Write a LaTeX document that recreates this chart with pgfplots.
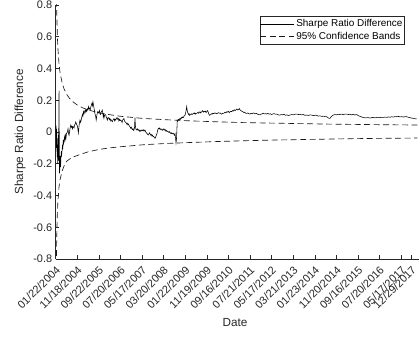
\documentclass[border=0pt]{standalone}
\usepackage{fontspec}
\setmainfont{Liberation Sans}
\usepackage{pgfplots}
\pgfplotsset{compat=1.18}
\definecolor{axiscol}{RGB}{38,38,38}
\begin{document}
\begin{tikzpicture}
\useasboundingbox (-55.7bp,-78bp) rectangle (364.3bp,259bp);
\begin{axis}[
  scale only axis,
  width=363.6bp, height=254bp,
  at={(0,0)}, anchor=south west,
  xmin=0, xmax=3367, ymin=-0.8, ymax=0.8,
  axis x line*=bottom, axis y line*=left,
  axis line style={color=axiscol, line width=0.5bp},
  tick align=inside,
  major tick length=3.6bp,
  tick style={color=axiscol, line width=0.5bp},
  /pgf/number format/assume math mode=true,
  xtick={0,200,400,600,800,1000,1200,1400,1600,1800,2000,2200,2400,2600,2800,3000,3200,3296},
  xticklabels={01/22/2004,11/18/2004,09/22/2005,07/20/2006,05/17/2007,03/20/2008,01/22/2009,11/19/2009,09/16/2010,07/21/2011,05/17/2012,03/21/2013,01/23/2014,11/20/2014,09/16/2015,07/20/2016,05/17/2017,12/29/2017},
  xticklabel style={font=\fontsize{11}{13}\selectfont, color=axiscol, xshift=3.2bp, yshift=-8.2bp, rotate=45, anchor=east, inner sep=1bp},
  ytick={-0.8,-0.6,-0.4,-0.2,0,0.2,0.4,0.6,0.8},
  yticklabels={-0.8,-0.6,-0.4,-0.2,0,0.2,0.4,0.6,0.8},
  yticklabel style={font=\fontsize{11}{13}\selectfont, color=axiscol},
  xlabel={Date},
  ylabel={Sharpe Ratio Difference},
  xlabel style={font=\fontsize{11.8}{14}\selectfont, color=axiscol, at={(axis description cs:0.493,-0.252)}, anchor=center},
  ylabel style={font=\fontsize{11.8}{14}\selectfont, color=axiscol, at={(axis description cs:-0.098,0.5)}, anchor=center, rotate=0},
  legend style={at={(axis description cs:0.9587,0.958)}, anchor=north east, draw=axiscol, line width=0.5bp, fill=white,
    font=\fontsize{10}{12}\selectfont, inner xsep=0bp, inner ysep=2.5bp, row sep=2.2bp,
    nodes={inner xsep=1.6bp, inner ysep=1bp}},
  legend cell align=left,
  legend image code/.code={\draw[#1] (0bp,0bp) -- (34bp,0bp);},
]
\addplot[black, line width=0.55bp] coordinates {
(0,0.00)(3,0.04)(5,-0.03)(7,-0.10)(9,0.02)(11,-0.06)(13,-0.16)(15,-0.04)(17,-0.12)(19,-0.20)
(21,-0.08)(23,-0.15)(25,-0.02)(27,-0.18)(29,0.10)(31,0.26)(33,-0.05)(35,-0.26)(37,-0.18)(39,-0.24)
(42,-0.15)(45,-0.22)(48,-0.17)(52,-0.12)(56,-0.14)(62,-0.09)(66,-0.11)(70,-0.05)(74,-0.07)(77,-0.06)
(82,-0.03)(86,-0.05)(90,-0.02)(95,-0.04)(100,-0.01)(108,0.00)(114,0.02)(119,-0.01)(124,-0.02)(130,0.01)
(135,0.03)(140,0.044)(146,0.03)(150,0.035)(155,0.02)(160,0.035)(165,0.03)(170,0.025)(175,0.045)(180,0.05)
(185,0.063)(190,0.055)(195,0.045)(200,0.04)(205,0.02)(210,-0.006)(215,0.03)(220,0.06)(225,0.075)(230,0.06)
(235,0.07)(242,0.096)(248,0.11)(252,0.10)(257,0.128)(262,0.115)(268,0.13)(273,0.138)(278,0.125)(283,0.14)
(288,0.13)(293,0.145)(298,0.14)(304,0.16)(309,0.145)(314,0.15)(320,0.14)(326,0.16)(331,0.17)(335,0.18)
(340,0.165)(345,0.19)(350,0.17)(355,0.15)(360,0.13)(365,0.11)(370,0.10)(375,0.075)(380,0.10)(385,0.12)
(390,0.128)(395,0.12)(401,0.126)(405,0.135)(410,0.115)(415,0.11)(420,0.125)(426,0.13)(431,0.138)(436,0.12)
(440,0.10)(444,0.11)(447,0.088)(452,0.105)(457,0.11)(462,0.11)(467,0.095)(472,0.09)(478,0.075)(484,0.09)
(490,0.09)(495,0.08)(500,0.085)(505,0.07)(510,0.08)(517,0.072)(524,0.065)(530,0.075)(535,0.08)(540,0.085)
(546,0.07)(551,0.08)(556,0.075)(562,0.085)(566,0.09)(570,0.09)(575,0.08)(580,0.085)(585,0.07)(590,0.08)
(596,0.072)(602,0.075)(608,0.07)(612,0.065)(615,0.06)(620,0.075)(626,0.08)(632,0.085)(637,0.07)(642,0.065)
(648,0.06)(653,0.058)(658,0.05)(663,0.055)(668,0.045)(674,0.05)(680,0.04)(685,0.035)(690,0.03)(695,0.023)
(700,0.03)(705,0.02)(710,0.015)(715,0.02)(720,0.01)(725,0.013)(730,0.03)(734,0.09)(738,0.04)(742,0.02)
(746,0.015)(750,0.013)(757,0.02)(763,0.01)(770,0.015)(776,0.005)(781,0.01)(788,0.005)(795,0.012)(802,0.008)
(810,0.015)(818,0.005)(827,0.013)(833,0.00)(840,-0.005)(846,-0.01)(852,-0.015)(857,-0.019)(863,-0.012)(868,-0.005)
(873,-0.01)(879,-0.02)(885,-0.015)(890,-0.025)(896,-0.02)(902,-0.03)(908,-0.028)(914,-0.035)(920,-0.04)(926,-0.03)
(932,-0.02)(938,-0.01)(944,0.01)(950,0.023)(956,0.02)(962,0.025)(968,0.015)(974,0.02)(980,0.018)(986,0.01)
(991,0.015)(996,0.013)(1002,0.02)(1008,0.012)(1014,0.015)(1020,0.005)(1026,0.01)(1031,0.003)(1037,0.005)(1043,0.002)
(1049,-0.003)(1055,0.002)(1061,-0.005)(1066,-0.01)(1072,-0.005)(1078,-0.012)(1083,-0.008)(1089,-0.008)(1095,-0.015)(1100,-0.02)
(1105,-0.01)(1110,-0.04)(1114,-0.07)(1118,-0.05)(1122,0.01)(1126,0.075)(1132,0.07)(1138,0.08)(1144,0.075)(1150,0.085)
(1156,0.08)(1162,0.09)(1167,0.087)(1172,0.095)(1177,0.09)(1182,0.09)(1188,0.10)(1194,0.105)(1200,0.11)(1206,0.13)
(1210,0.145)(1213,0.16)(1217,0.14)(1221,0.125)(1225,0.12)(1230,0.11)(1235,0.115)(1240,0.105)(1244,0.107)(1250,0.11)
(1256,0.115)(1262,0.11)(1268,0.112)(1274,0.118)(1280,0.115)(1287,0.12)(1293,0.112)(1300,0.118)(1306,0.117)(1312,0.12)
(1318,0.125)(1324,0.118)(1330,0.122)(1336,0.128)(1342,0.12)(1348,0.124)(1355,0.13)(1361,0.135)(1367,0.125)(1374,0.13)
(1380,0.128)(1386,0.132)(1392,0.122)(1398,0.127)(1404,0.135)(1410,0.13)(1415,0.12)(1420,0.11)(1425,0.105)(1429,0.107)
(1435,0.11)(1441,0.115)(1448,0.112)(1455,0.118)(1462,0.115)(1468,0.12)(1475,0.117)(1482,0.12)(1490,0.115)(1498,0.118)
(1506,0.122)(1514,0.118)(1522,0.12)(1530,0.115)(1538,0.112)(1545,0.118)(1552,0.117)(1560,0.12)(1568,0.125)(1576,0.12)
(1584,0.128)(1592,0.125)(1600,0.13)(1607,0.122)(1614,0.127)(1622,0.13)(1630,0.128)(1638,0.135)(1646,0.132)(1654,0.14)
(1662,0.135)(1670,0.14)(1678,0.145)(1686,0.138)(1694,0.142)(1700,0.148)(1706,0.14)(1715,0.135)(1724,0.13)(1733,0.128)
(1742,0.122)(1751,0.125)(1760,0.118)(1769,0.117)(1780,0.12)(1790,0.115)(1799,0.113)(1810,0.118)(1820,0.115)(1830,0.12)
(1840,0.118)(1850,0.115)(1861,0.117)(1870,0.112)(1880,0.11)(1892,0.108)(1902,0.112)(1912,0.115)(1922,0.118)(1932,0.114)
(1943,0.116)(1954,0.113)(1965,0.117)(1976,0.112)(1987,0.115)(1998,0.11)(2010,0.113)(2022,0.116)(2034,0.112)(2046,0.113)
(2058,0.109)(2070,0.106)(2077,0.107)(2090,0.11)(2102,0.108)(2115,0.112)(2128,0.105)(2140,0.108)(2155,0.104)(2170,0.107)
(2185,0.11)(2200,0.108)(2216,0.112)(2232,0.113)(2248,0.11)(2262,0.112)(2278,0.108)(2292,0.11)(2308,0.105)(2324,0.107)
(2340,0.104)(2356,0.108)(2372,0.106)(2388,0.103)(2402,0.106)(2417,0.105)(2432,0.1)(2448,0.102)(2462,0.098)(2478,0.1)
(2494,0.097)(2510,0.096)(2522,0.09)(2532,0.086)(2540,0.086)(2550,0.095)(2560,0.102)(2571,0.107)(2585,0.11)(2600,0.108)
(2615,0.112)(2630,0.11)(2645,0.113)(2660,0.11)(2675,0.112)(2695,0.113)(2710,0.11)(2725,0.112)(2740,0.108)(2755,0.111)
(2770,0.107)(2787,0.11)(2800,0.104)(2812,0.1)(2825,0.097)(2836,0.094)(2848,0.091)(2860,0.09)(2875,0.089)(2890,0.091)
(2910,0.088)(2925,0.09)(2940,0.092)(2955,0.089)(2970,0.091)(2985,0.093)(3000,0.09)(3015,0.092)(3034,0.092)(3050,0.094)
(3065,0.092)(3080,0.095)(3095,0.093)(3110,0.096)(3125,0.094)(3140,0.097)(3158,0.096)(3175,0.098)(3190,0.095)(3205,0.097)
(3220,0.094)(3235,0.097)(3250,0.096)(3265,0.093)(3280,0.09)(3295,0.088)(3311,0.086)(3325,0.084)(3343,0.082)
};
\addlegendentry{Sharpe Ratio Difference}
\addplot[black!90, line width=0.65bp, dash pattern=on 6bp off 3.5bp] coordinates {
(3,1.366)(5,1.058)(8,0.837)(10,0.749)(15,0.612)(20,0.531)(30,0.434)(40,0.376)(60,0.308)(80,0.267)
(100,0.239)(130,0.210)(160,0.190)(200,0.170)(250,0.152)(300,0.139)(400,0.121)(500,0.109)(600,0.099)(800,0.086)
(1000,0.078)(1250,0.070)(1500,0.064)(1750,0.059)(2000,0.056)(2250,0.053)(2500,0.050)(2750,0.048)(3000,0.046)(3350,0.044)
};
\addlegendentry{95\% Confidence Bands}
\addplot[black!90, line width=0.65bp, dash pattern=on 6bp off 3.5bp, forget plot] coordinates {
(3,-1.2)(5,-0.95)(8,-0.75)(10,-0.65)(15,-0.52)(20,-0.44)(30,-0.35)(40,-0.30)(60,-0.245)(80,-0.21)
(100,-0.185)(130,-0.17)(160,-0.158)(200,-0.148)(250,-0.136)(300,-0.125)(400,-0.11)(500,-0.1)(600,-0.093)(800,-0.081)
(1000,-0.073)(1250,-0.066)(1500,-0.06)(1750,-0.055)(2000,-0.051)(2250,-0.048)(2500,-0.045)(2750,-0.042)(3000,-0.040)(3350,-0.038)
};
\end{axis}
\end{tikzpicture}
\end{document}
